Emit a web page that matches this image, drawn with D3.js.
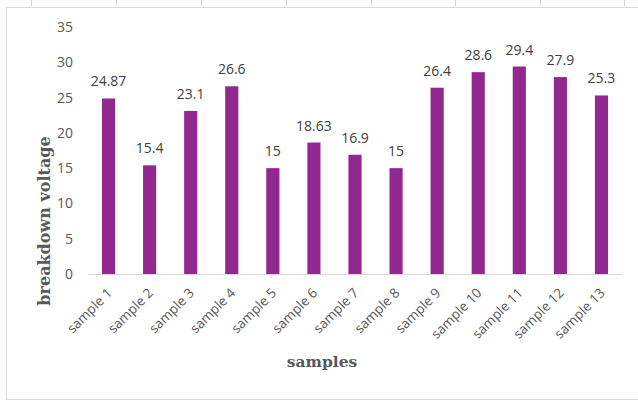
<!DOCTYPE html>
<html><head><meta charset="utf-8">
<script src="https://cdn.jsdelivr.net/npm/d3@7"></script>
<style>body{margin:0;background:#fff}svg{display:block}</style>
</head><body>
<script>
const categories = ["sample 1","sample 2","sample 3","sample 4","sample 5","sample 6","sample 7","sample 8","sample 9","sample 10","sample 11","sample 12","sample 13"];
const values = [24.87,15.4,23.1,26.6,15,18.63,16.9,15,26.4,28.6,29.4,27.9,25.3];
const valueLabels = ["24.87","15.4","23.1","26.6","15","18.63","16.9","15","26.4","28.6","29.4","27.9","25.3"];
const yTicks = [0,5,10,15,20,25,30,35];
const xTitle = "samples";
const yTitle = "breakdown voltage";

const W = 638, H = 400;
const svg = d3.select("body").append("svg").attr("width", W).attr("height", H);

// spreadsheet column marks and chart frame
const colMarks = [31,116,201,286,371,455,540,624];
svg.selectAll("line.col").data(colMarks).join("line")
  .attr("x1", d => d + 0.5).attr("x2", d => d + 0.5).attr("y1", 0).attr("y2", 6)
  .attr("stroke", "#d4d4d4");
svg.append("path").attr("d", "M645,7.5H6.5V399.5H645")
  .attr("fill", "none").attr("stroke", "#d9d9d9");

const x = d3.scaleBand().domain(categories).range([88, 622]).paddingInner(0.68).paddingOuter(0.34);
const y = d3.scaleLinear().domain([0, 35]).range([274, 27]);

// y tick labels
const yAxis = d3.axisLeft(y).tickValues(yTicks).tickSize(0).tickPadding(0);
const gy = svg.append("g").attr("transform", "translate(73,0)").call(yAxis);
gy.select(".domain").remove();
gy.selectAll("text").attr("font-family", "Open Sans").attr("font-size", 14).attr("fill", "#595959");

// bars
svg.selectAll("rect.bar").data(values).join("rect")
  .attr("x", (d, i) => x(categories[i])).attr("width", x.bandwidth())
  .attr("y", d => y(d)).attr("height", d => y(0) - y(d))
  .attr("fill", "#912890");

// x axis line
const xAxis = d3.axisBottom(x).tickSize(0).tickPadding(0);
const gx = svg.append("g").attr("transform", "translate(0,274.5)").call(xAxis);
gx.select(".domain").attr("stroke", "#d9d9d9").attr("d", "M88,0H622");
gx.selectAll("text")
  .attr("font-family", "Open Sans").attr("font-size", 13.5).attr("fill", "#595959")
  .attr("text-anchor", "end").attr("dy", "0.35em")
  .attr("transform", "translate(1,16) rotate(-45)");

// value labels
svg.selectAll("text.val").data(values).join("text")
  .attr("x", (d, i) => x(categories[i]) + x.bandwidth() / 2)
  .attr("y", d => y(d) - 12)
  .attr("text-anchor", "middle")
  .attr("font-family", "Open Sans").attr("font-size", 14).attr("fill", "#404040")
  .text((d, i) => valueLabels[i]);

// titles
svg.append("text").attr("x", 322).attr("y", 367).attr("text-anchor", "middle")
  .attr("font-family", "DejaVu Serif").attr("font-weight", "bold").attr("font-size", 15.5)
  .attr("fill", "#595959").text(xTitle);
svg.append("text").attr("transform", "translate(50,221) rotate(-90)").attr("text-anchor", "middle")
  .attr("font-family", "DejaVu Serif").attr("font-weight", "bold").attr("font-size", 16)
  .attr("fill", "#595959").text(yTitle);
</script>
</body></html>
